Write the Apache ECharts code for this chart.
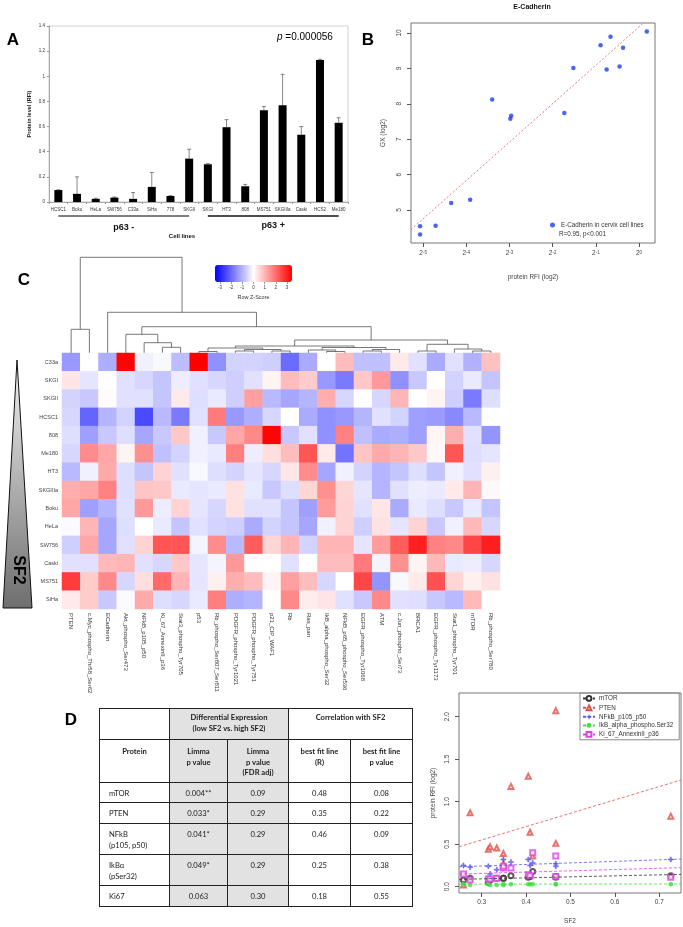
<!DOCTYPE html>
<html>
<head>
<meta charset="utf-8">
<script src="https://cdn.jsdelivr.net/npm/echarts@6/dist/echarts.min.js"></script>
<style>
  html, body { margin: 0; padding: 0; background: #fff; }
  #wrap { position: relative; width: 683px; height: 927px; }
  #chart { position: absolute; left: 0; top: 0; width: 683px; height: 927px; }
  #tbl {
    position: absolute; left: 99px; top: 708px; width: 313px;
    border-collapse: collapse; table-layout: fixed;
    font-family: Lato, "Liberation Sans", sans-serif; font-size: 7.6px; line-height: 10.5px; color: #222;
  }
  #tbl td { border: 1px solid #222; padding: 5px 0 0 0; vertical-align: top; text-align: center; box-sizing: border-box; }
  #tbl td.name { text-align: left; padding-left: 9px; }
  #tbl td.g { background: #e2e2e2; }
  #tbl tr.h td { font-weight: bold; }
</style>
</head>
<body>
<div id="wrap">
  <div id="chart"></div>
  <table id="tbl"></table>
</div>
<script>
// ---- panel A: protein level per cell line
const cellLines = ["HCSC1", "Boku", "HeLa", "SW756", "C33a", "SiHa", "778", "SKGII",
  "SKGI", "HT3", "808", "MS751", "SKGIIIa", "Caski", "HCS2", "Me180"];
const proteinLevel = [0.095, 0.065, 0.025, 0.035, 0.025, 0.12, 0.048, 0.345,
  0.30, 0.595, 0.125, 0.73, 0.77, 0.535, 1.13, 0.63];
const proteinErrTop = [0.097, 0.20, 0.03, 0.04, 0.075, 0.235, 0.05, 0.42,
  0.305, 0.655, 0.14, 0.76, 1.015, 0.60, 1.135, 0.67];
const p63NegCount = 8;

// ---- panel B: E-Cadherin, protein RFI (log2) vs GX (log2)
const ecadRfiLog2 = [-5.07, -5.07, -4.71, -4.35, -3.91, -3.40, -2.98, -2.96,
  -1.73, -1.52, -0.89, -0.66, -0.75, -0.45, -0.37, 0.18];
const ecadGxLog2 = [4.54, 4.31, 4.56, 5.20, 5.29, 8.12, 7.58, 7.66,
  7.74, 9.01, 9.65, 9.89, 8.97, 9.05, 9.58, 10.04];
const ecadFit = [10.17, 1.084]; // intercept, slope
const ecadTicksX = [-5, -4, -3, -2, -1, 0];
const ecadTicksY = [5, 6, 7, 8, 9, 10];

// ---- panel C: heatmap
const heatCols = ["PTEN", "c.Myc_phospho_Thr58_Ser62", "ECadherin", "Akt_phospho_Ser473",
  "NFkB_p105_p50", "Ki_67_AnnexinII_p36", "Stat3_phospho_Tyr705", "p53",
  "Rb_phospho_Ser807_Ser811", "PDGFR_phospho_Tyr1021", "PDGFR_phospho_Tyr751", "p21_CIP_WAF1",
  "Rb", "Ras_pan", "IkB_alpha_phospho_Ser32", "NFkB_p65_phospho_Ser536",
  "EGFR_phospho_Tyr1068", "ATM", "c.Jun_phospho_Ser73", "BRCA1",
  "EGFR_phospho_Tyr1173", "Stat1_phospho_Tyr701", "mTOR", "Rb_phospho_Ser780"];
const heatRows = ["C33a", "SKGI", "SKGII", "HCSC1", "808", "Me180", "HT3",
  "SKGIIIa", "Boku", "HeLa", "SW756", "Caski", "MS751", "SiHa"];
const heatZ = [
  [-1.4, 0, -1.1, 3.4, -0.2, -0.1, -0.9, 3.45, -1.5, -0.6, -0.6, -0.65, -2.0, -1.15, 0, 0.9, -0.85, -0.85, 0.3, -0.4, -1.15, -0.4, -1.05, 0.85],
  [0.35, -0.35, 0, -0.4, -0.55, -0.8, -0.25, -0.4, -0.55, -0.65, -0.4, 0.15, 0.9, 0.7, -1.4, -1.8, 0.75, 1.4, -1.5, -0.75, 0, -0.6, -0.3, -0.8],
  [-0.6, -0.75, 0.05, -0.4, -0.4, -0.8, 0.3, -0.45, -0.3, -0.65, 1.3, -0.95, -1.2, -1.0, 1.1, -0.55, 0, -0.55, 1.0, 0, 0.15, -0.65, -1.8, -0.45],
  [-0.55, -2.1, -1.0, -0.6, -2.45, -0.95, -1.8, -0.4, 1.8, -1.4, -1.1, -0.55, 0, -1.15, -1.5, -1.4, -1.0, -0.4, -0.6, -1.3, -1.35, -1.6, -0.95, 0],
  [-0.45, -1.3, -0.75, -0.45, -1.2, -0.75, 0.75, -0.2, -0.75, 1.2, 1.6, 3.4, -0.75, -0.4, -1.5, 1.7, -0.85, -1.15, -1.1, -1.3, 0.13, 1.1, -0.4, -1.45],
  [-0.55, 1.55, 1.2, 0.15, 1.5, -0.85, -0.6, -0.2, -0.3, 1.75, -0.25, 0.45, 0.9, 2.3, 0.3, -1.9, 0.8, 1.15, 1.0, 0.75, 0.1, 2.3, -0.45, -0.35],
  [-0.95, -0.2, 1.15, -0.45, -0.8, 0.6, -0.4, -0.1, -0.45, -0.6, -0.35, -0.55, 0.35, 1.55, -1.2, -0.2, -0.6, -1.0, -0.8, -0.45, -0.8, -0.2, -0.4, 0.2],
  [1.1, 1.2, 1.7, -0.45, 0.8, 0.75, -0.3, -0.35, -0.3, 0.4, -0.3, -0.75, -0.45, 0.55, 1.5, 0.55, -0.35, -1.0, -0.4, -0.25, -0.3, 0.3, 1.0, 0.1],
  [1.2, -1.3, -1.0, -0.4, 1.4, -0.25, 0.6, -0.35, -0.55, 0.4, -0.4, -0.4, -0.8, -1.3, 1.35, 0.6, -0.4, 0.35, -1.15, -0.3, -0.45, -0.75, -0.3, -0.8],
  [-0.05, 1.0, -1.2, -0.45, 0, -0.3, -0.8, -0.4, -0.6, -0.65, -1.15, -0.6, -0.8, -1.2, -0.2, 0.6, -0.65, 0.4, -0.35, 0.6, -0.75, -0.2, 0.95, -0.55],
  [-0.65, 1.2, -1.2, -0.4, 0.6, 2.3, 2.3, -0.15, 1.55, -0.95, 2.2, 0.55, 1.0, -0.6, 1.0, 1.0, -0.35, 1.35, 2.2, 3.0, 1.7, 1.6, 2.5, 3.05],
  [-0.4, -0.4, 0.95, 1.0, -0.4, -0.55, 0.75, -0.35, -0.15, 1.4, 0, 0, -0.4, 0, 0.9, 0.9, 1.8, -0.15, 1.5, 0.15, 0.95, -0.3, -0.25, -0.55],
  [2.65, 0.7, 1.6, -0.55, 0.45, 2.0, 1.0, -0.35, 0.2, 1.1, 0.9, 0.15, 1.3, 0.9, -0.55, 0, 2.5, -1.45, -0.1, 0.3, 2.35, 0.55, 0.2, 0.4],
  [0.3, 0.7, -0.75, -0.05, 1.15, -0.45, -0.55, -0.3, 1.75, -1.1, -1.0, 0, 1.6, 0.25, 0.35, -0.4, -0.75, 1.6, -0.4, -0.45, -0.75, -0.95, 0.95, 0],
];
// column dendrogram, hclust style: negative = leaf (column index + 1), positive = earlier merge row
const dendroMerges = [
  [-8, -9, 0.15], [-10, -11, 0.2], [-12, -13, 0.2], [2, 3, 0.35], [1, 4, 0.5],
  [-15, -16, 0.15], [-14, 6, 0.3], [-17, -18, 0.2], [8, -19, 0.35], [7, 9, 0.55],
  [5, 10, 0.7], [-20, -21, 0.2], [-23, -24, 0.2], [-22, 13, 0.4], [12, 14, 0.87],
  [11, 15, 1.3], [-6, -7, 0.57], [-5, 17, 1.03], [-4, 18, 1.87], [19, 16, 2.63],
  [-3, 20, 4.07], [-1, -2, 2.37], [22, 21, 9.57],
];
const zKeyTicks = [-3, -2, -1, 0, 1, 2, 3];

// ---- panel D: correlation with SF2
const sf2Values = [0.259, 0.274, 0.315, 0.319, 0.334, 0.349, 0.349, 0.366, 0.405, 0.409, 0.415, 0.467, 0.467, 0.726];
const mtorRfi = [0.08, 0.10, 0.05, 0.08, 0.10, 0.10, 0.10, 0.13, 0.11, 0.12, 0.18, 0.11, 0.12, 0.13];
const ptenRfi = [0.02, 0.87, 0.44, 0.47, 0.455, 0.39, 0.27, 1.18, 1.30, 0.64, 0.36, 2.07, 0.51, 0.83];
const nfkbRfi = [0.25, 0.23, 0.24, 0.15, 0.20, 0.32, 0.22, 0.29, 0.32, 0.25, 0.28, 0.27, 0.24, 0.32];
const ikbRfi = [0.03, 0.02, 0.03, 0.02, 0.02, 0.02, 0.03, 0.03, 0.03, 0.03, 0.03, 0.03, 0.03, 0.03];
const ki67Rfi = [0.15, 0.08, 0.09, 0.09, 0.10, 0.22, 0.24, 0.22, 0.14, 0.13, 0.40, 0.36, 0.12, 0.11];
const sf2Names = ["mTOR", "PTEN", "NFkB_p105_p50", "IkB_alpha_phospho.Ser32", "Ki_67_AnnexinII_p36"];
const sf2Fits = [[0.057, 0.118], [0.079, 1.57], [0.19, 0.18], [0.028, 0.006], [0.112, 0.15]];
const sf2TicksX = [0.3, 0.4, 0.5, 0.6, 0.7];
const sf2TicksY = [0, 0.5, 1.0, 1.5, 2.0];

// ---- panel D table
const tblProteins = ["mTOR", "PTEN", "NFkB<br>(p105, p50)", "IkBα<br>(pSer32)", "Ki67"];
const tblLimmaP = ["0.004**", "0.033*", "0.041*", "0.049*", "0.063"];
const tblLimmaFdr = ["0.09", "0.29", "0.29", "0.29", "0.30"];
const tblFitR = ["0.48", "0.35", "0.46", "0.25", "0.18"];
const tblFitP = ["0.08", "0.22", "0.09", "0.38", "0.55"];

// build the table
(function () {
  const h = [];
  h.push('<colgroup><col style="width:70px"><col style="width:58px"><col style="width:61px"><col style="width:62px"><col style="width:62px"></colgroup>');
  h.push('<tr class="h" style="height:31px"><td style="padding-top:3px"></td><td class="g" colspan="2" style="padding-top:3px">Differential Expression<br>(low SF2 vs. high SF2)</td><td colspan="2" style="padding-top:3px">Correlation with SF2</td></tr>');
  h.push('<tr class="h" style="height:43px"><td style="padding-top:6px">Protein</td><td class="g" style="padding-top:6px">Limma<br>p value</td><td class="g" style="padding-top:6px">Limma<br>p value<br>(FDR adj)</td><td style="padding-top:6px">best fit line<br>(R)</td><td style="padding-top:6px">best fit line<br>p value</td></tr>');
  const rh = [20, 21, 31, 31, 21];
  tblProteins.forEach((p, i) => {
    h.push('<tr style="height:' + rh[i] + 'px"><td class="name">' + p + '</td><td class="g">' + tblLimmaP[i] +
      '</td><td class="g">' + tblLimmaFdr[i] + '</td><td>' + tblFitR[i] + '</td><td>' + tblFitP[i] + '</td></tr>');
  });
  document.getElementById("tbl").innerHTML = h.join("");
})();

const FONT = "Liberation Sans, Arial, sans-serif";

// dendrogram node positions from merge table
const nodeX = [], nodeH = [];
function nodePos(id) { return id < 0 ? [-id - 1, 0] : [nodeX[id - 1], nodeH[id - 1]]; }
const dendroData = dendroMerges.map(([a, b, h], k) => {
  const pa = nodePos(a), pb = nodePos(b);
  nodeX[k] = (pa[0] + pb[0]) / 2;
  nodeH[k] = h;
  return [pa[0], pa[1], pb[0], pb[1], h];
});

const heatData = [];
heatZ.forEach((row, r) => row.forEach((v, c) => heatData.push([c, r, v])));

const sf2Min = 0.249, sf2Max = 0.749;
const ecadMin = -5.28, ecadMax = 0.37;
const sf2Colors = ["#333333", "#e0504a", "#5a5af0", "#3ee03e", "#e040e0"];
const sf2Symbols = ["emptyCircle", "emptyTriangle", "path://M4,0h2v4h4v2h-4v4h-2v-4h-4v-2h4z", "circle", "emptyRect"];
const sf2Series = [mtorRfi, ptenRfi, nfkbRfi, ikbRfi, ki67Rfi];

const axisTxt = (size, color) => ({ fontSize: size, color: color || "#444", fontFamily: FONT });

const series = [];
// A
series.push({
  type: "bar", xAxisIndex: 0, yAxisIndex: 0, data: proteinLevel, barWidth: 8,
  itemStyle: { color: "#000" }, silent: true,
});
series.push({
  type: "custom", xAxisIndex: 0, yAxisIndex: 0, silent: true,
  data: proteinLevel.map((v, i) => [i, v, proteinErrTop[i]]),
  renderItem(params, api) {
    const base = api.coord([api.value(0), api.value(1)]);
    const top = api.coord([api.value(0), api.value(2)]);
    const st = { stroke: "#555", lineWidth: 0.7 };
    return {
      type: "group", children: [
        { type: "line", shape: { x1: base[0], y1: base[1], x2: base[0], y2: top[1] }, style: st },
        { type: "line", shape: { x1: base[0] - 2, y1: top[1], x2: base[0] + 2, y2: top[1] }, style: st },
      ],
    };
  },
});
// B
series.push({
  type: "line", xAxisIndex: 1, yAxisIndex: 1, silent: true, symbol: "none", clip: true,
  data: [[ecadMin, ecadFit[0] + ecadFit[1] * ecadMin], [ecadMax, ecadFit[0] + ecadFit[1] * ecadMax]],
  lineStyle: { color: "#e05a5a", width: 0.8, type: [2, 2] },
});
series.push({
  type: "scatter", name: "E-Cadherin in cervix cell lines", xAxisIndex: 1, yAxisIndex: 1,
  data: ecadRfiLog2.map((x, i) => [x, ecadGxLog2[i]]), symbolSize: 4.5,
  itemStyle: { color: "#1e3ee6" },
});
// C dendrogram
series.push({
  type: "custom", xAxisIndex: 2, yAxisIndex: 2, silent: true, data: dendroData,
  renderItem(params, api) {
    const p1 = api.coord([api.value(0), api.value(1)]);
    const p2 = api.coord([api.value(0), api.value(4)]);
    const p3 = api.coord([api.value(2), api.value(4)]);
    const p4 = api.coord([api.value(2), api.value(3)]);
    return { type: "polyline", shape: { points: [p1, p2, p3, p4] }, style: { stroke: "#555", lineWidth: 0.8, fill: null } };
  },
});
// C heatmap
const heatIndex = series.length;
series.push({
  type: "heatmap", xAxisIndex: 3, yAxisIndex: 3, data: heatData, silent: true,
  itemStyle: { borderWidth: 0 },
});
// D
sf2Names.forEach((name, k) => {
  const [a, b] = sf2Fits[k];
  series.push({
    type: "line", name, xAxisIndex: 5, yAxisIndex: 5, silent: true,
    data: [[sf2Min, a + b * sf2Min], [sf2Max, a + b * sf2Max]],
    showSymbol: false, symbol: sf2Symbols[k], symbolSize: 5,
    lineStyle: { color: sf2Colors[k], width: 0.8, type: [3, 2] },
    itemStyle: { color: sf2Colors[k], borderWidth: 0.8 },
  });
});
sf2Names.forEach((name, k) => {
  series.push({
    type: "scatter", name, xAxisIndex: 5, yAxisIndex: 5,
    data: sf2Values.map((x, i) => [x, sf2Series[k][i]]),
    symbol: sf2Symbols[k], symbolSize: k === 3 ? 4 : 5,
    itemStyle: { color: sf2Colors[k], borderColor: sf2Colors[k], borderWidth: 0.7 },
  });
});

const noGrid = { outerBoundsMode: "none", containLabel: false };
const offZero = { show: false, onZero: false };
const option = {
  backgroundColor: "#fff",
  animation: false,
  textStyle: { fontFamily: FONT },
  grid: [
    { ...noGrid, left: 49, top: 26, width: 299, height: 176, show: true, borderColor: "#d0d0d0", borderWidth: 1 },
    { ...noGrid, left: 411, top: 23, width: 244, height: 220, show: true, borderColor: "#777", borderWidth: 1 },
    { ...noGrid, left: 62, top: 257, width: 438, height: 96 },
    { ...noGrid, left: 62, top: 353, width: 438, height: 256 },
    { ...noGrid, left: 215, top: 265, width: 77, height: 17 },
    { ...noGrid, left: 459, top: 693, width: 222, height: 200, show: true, borderColor: "#777", borderWidth: 1 },
  ],
  xAxis: [
    {
      gridIndex: 0, type: "category", data: cellLines,
      axisLine: { lineStyle: { color: "#999", width: 0.8 } },
      axisTick: { show: true, length: 2, lineStyle: { color: "#999" } },
      axisLabel: { ...axisTxt(4.5, "#333"), interval: 0, margin: 5 },
    },
    {
      gridIndex: 1, type: "value", min: ecadMin, max: ecadMax,
      axisLine: offZero,
      axisTick: { show: true, length: 4, customValues: ecadTicksX, lineStyle: { color: "#555" } },
      axisLabel: {
        customValues: ecadTicksX, margin: 7, formatter: (v) => "{b|2}{s|" + v + "}",
        rich: { b: { fontSize: 6.5, color: "#444" }, s: { fontSize: 4.5, color: "#444", verticalAlign: "top", lineHeight: 6 } },
      },
      splitLine: { show: false },
      name: "protein RFI (log2)", nameLocation: "middle", nameGap: 31, nameTextStyle: axisTxt(6.5),
    },
    { gridIndex: 2, type: "value", min: -0.5, max: 23.5, show: false },
    {
      gridIndex: 3, type: "category", data: heatCols,
      axisLine: { show: false }, axisTick: { show: false },
      axisLabel: { ...axisTxt(6, "#333"), interval: 0, rotate: -90, margin: 4 },
    },
    {
      gridIndex: 4, type: "value", min: -3.45, max: 3.45,
      axisLine: offZero, splitLine: { show: false },
      axisTick: { show: true, length: 2, customValues: zKeyTicks, lineStyle: { color: "#555", width: 0.6 } },
      axisLabel: { ...axisTxt(4.5, "#333"), customValues: zKeyTicks, margin: 3 },
      name: "Row Z-Score", nameLocation: "middle", nameGap: 12, nameTextStyle: axisTxt(5.5, "#333"),
    },
    {
      gridIndex: 5, type: "value", min: sf2Min, max: sf2Max,
      axisLine: offZero, splitLine: { show: false },
      axisTick: { show: true, length: 4, customValues: sf2TicksX, lineStyle: { color: "#555" } },
      axisLabel: { ...axisTxt(6.5), customValues: sf2TicksX, margin: 6, formatter: (v) => v.toFixed(1) },
      name: "SF2", nameLocation: "middle", nameGap: 25, nameTextStyle: axisTxt(6.5),
    },
  ],
  yAxis: [
    {
      gridIndex: 0, type: "value", min: 0, max: 1.4, interval: 0.2,
      axisLine: { show: true, lineStyle: { color: "#999", width: 0.8 } },
      axisTick: { show: true, length: 2, lineStyle: { color: "#999" } },
      axisLabel: { ...axisTxt(4.5, "#333"), margin: 4 },
      splitLine: { show: false },
      name: "Protein level (RFI)", nameLocation: "middle", nameGap: 17, nameRotate: 90,
      nameTextStyle: { fontSize: 5.5, fontWeight: "bold", color: "#222", fontFamily: FONT },
    },
    {
      gridIndex: 1, type: "value", min: 4.07, max: 10.28,
      axisLine: offZero, splitLine: { show: false },
      axisTick: { show: true, length: 4, customValues: ecadTicksY, lineStyle: { color: "#555" } },
      axisLabel: { ...axisTxt(6.5), customValues: ecadTicksY, rotate: 90, margin: 8 },
      name: "GX (log2)", nameLocation: "middle", nameGap: 24, nameTextStyle: axisTxt(6.5),
    },
    { gridIndex: 2, type: "value", min: 0, max: 9.6, show: false },
    {
      gridIndex: 3, type: "category", data: heatRows, inverse: true,
      axisLine: { show: false }, axisTick: { show: false },
      axisLabel: { ...axisTxt(5.5, "#444"), interval: 0, margin: 4 },
    },
    { gridIndex: 4, type: "value", show: false },
    {
      gridIndex: 5, type: "value", min: -0.074, max: 2.279,
      axisLine: offZero, splitLine: { show: false },
      axisTick: { show: true, length: 4, customValues: sf2TicksY, lineStyle: { color: "#555" } },
      axisLabel: { ...axisTxt(6.5), customValues: sf2TicksY, rotate: 90, margin: 8, formatter: (v) => v.toFixed(1) },
      name: "protein RFI (log2)", nameLocation: "middle", nameGap: 22, nameTextStyle: axisTxt(6.5),
    },
  ],
  visualMap: {
    type: "continuous", min: -3.45, max: 3.45, seriesIndex: heatIndex, orient: "horizontal",
    left: 215, top: 265, itemWidth: 17, itemHeight: 77, padding: 0, calculable: false,
    hoverLink: false, text: null, inRange: { color: ["#0000ff", "#ffffff", "#ff0000"] },
  },
  legend: [
    {
      data: sf2Names, orient: "vertical", left: 580, top: 693, padding: [2, 6, 2, 2],
      borderColor: "#888", borderWidth: 1, itemGap: 2.6, itemWidth: 12, itemHeight: 6,
      textStyle: { fontSize: 6.3, color: "#333", fontFamily: FONT, padding: [0, 0, 0, -1] },
      selectedMode: false,
    },
    {
      data: ["E-Cadherin in cervix cell lines"], left: 550, top: 222, padding: 0,
      itemWidth: 5, itemHeight: 5, icon: "circle", itemGap: 0,
      textStyle: { fontSize: 6.3, color: "#333", fontFamily: FONT, padding: [0, 0, 0, 1] },
      selectedMode: false,
    },
  ],
  series,
};

const chart = echarts.init(document.getElementById("chart"), null, { renderer: "canvas" });
chart.setOption(option);

// annotations placed from the axes
const px = (i) => chart.convertToPixel({ xAxisIndex: 0 }, i);
const gx1 = px(0), gx2 = px(p63NegCount - 1), gx3 = px(p63NegCount), gx4 = px(cellLines.length - 1);
const letter = (t, x, y) => ({
  type: "text", x, y, style: { text: t, fontSize: 17, fontWeight: "bold", fill: "#000", fontFamily: FONT, align: "center", verticalAlign: "middle" },
});
chart.setOption({
  graphic: [
    letter("A", 13, 40), letter("B", 368, 40), letter("C", 24, 280), letter("D", 71, 720),
    {
      type: "text", x: 277, y: 37,
      style: { text: "{i|p} =0.000056", fontSize: 10, fill: "#000", fontFamily: FONT, verticalAlign: "middle", rich: { i: { fontStyle: "italic", fontSize: 10 } } },
    },
    { type: "line", shape: { x1: gx1, y1: 216, x2: gx2, y2: 216 }, style: { stroke: "#555", lineWidth: 1.4 } },
    { type: "line", shape: { x1: gx3, y1: 216, x2: gx4, y2: 216 }, style: { stroke: "#111", lineWidth: 1.4 } },
    { type: "text", x: (gx1 + gx2) / 2, y: 228, style: { text: "p63 -", fontSize: 9, fontWeight: "bold", fill: "#111", fontFamily: FONT, align: "center", verticalAlign: "middle" } },
    { type: "text", x: (gx3 + gx4) / 2, y: 226, style: { text: "p63 +", fontSize: 9, fontWeight: "bold", fill: "#111", fontFamily: FONT, align: "center", verticalAlign: "middle" } },
    { type: "text", x: 182, y: 236, style: { text: "Cell lines", fontSize: 6, fontWeight: "bold", fill: "#111", fontFamily: FONT, align: "center", verticalAlign: "middle" } },
    { type: "text", x: 532, y: 7, style: { text: "E-Cadherin", fontSize: 7, fontWeight: "bold", fill: "#111", fontFamily: FONT, align: "center", verticalAlign: "middle" } },
    { type: "text", x: 559, y: 234, style: { text: "R=0.95, p<0.001", fontSize: 6.3, fill: "#333", fontFamily: FONT, verticalAlign: "middle" } },
    {
      type: "polygon", shape: { points: [[17, 360], [3, 608], [32, 608]] },
      style: {
        stroke: "#111", lineWidth: 1,
        fill: new echarts.graphic.LinearGradient(0, 0, 0, 1, [{ offset: 0, color: "#f2f2f2" }, { offset: 1, color: "#6e6e6e" }]),
      },
    },
    { type: "text", x: 18, y: 570, rotation: -Math.PI / 2, style: { text: "SF2", fontSize: 16, fontWeight: "bold", fill: "#000", fontFamily: FONT, align: "center", verticalAlign: "middle" } },
  ],
});
</script>
</body>
</html>
